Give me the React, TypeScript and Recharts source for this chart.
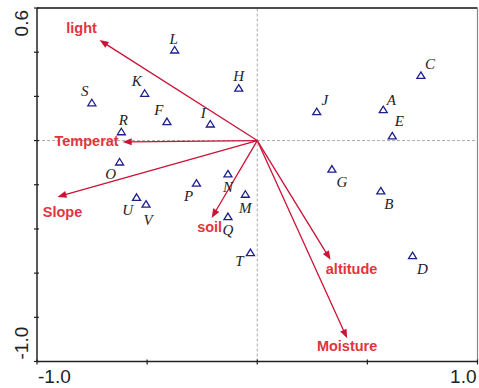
import React from 'react';
import { ScatterChart, Scatter, XAxis, YAxis, ReferenceLine } from 'recharts';

// Sample (site) scores
const siteNames = ['A', 'B', 'C', 'D', 'E', 'F', 'G', 'H', 'I', 'J', 'K', 'L', 'M', 'N', 'O', 'P', 'Q', 'R', 'S', 'T', 'U', 'V'];
const siteAxis1 = [0.572, 0.561, 0.743, 0.705, 0.613, -0.41, 0.339, -0.084, -0.213, 0.27, -0.511, -0.375, -0.054, -0.133, -0.625, -0.276, -0.133, -0.617, -0.751, -0.031, -0.548, -0.505];
const siteAxis2 = [0.14, -0.228, 0.295, -0.521, 0.021, 0.086, -0.129, 0.237, 0.075, 0.131, 0.214, 0.41, -0.243, -0.151, -0.097, -0.193, -0.344, 0.04, 0.171, -0.507, -0.257, -0.288];

// Environmental variable vectors
const envNames = ['light', 'Temperat', 'Slope', 'soil', 'altitude', 'Moisture'];
const envAxis1 = [-0.716, -0.611, -0.907, -0.207, 0.333, 0.408];
const envAxis2 = [0.455, -0.006, -0.255, -0.35, -0.54, -0.895];

// Axes
const xTicks = [-1, -0.5, 0, 0.5, 1];
const yTicks = [-1, -0.8, -0.6, -0.4, -0.2, 0, 0.2, 0.4, 0.6];
const xTickLabels = ['-1.0', '', '', '', '1.0'];
const yTickLabels = ['-1.0', '', '', '', '', '', '', '', '0.6'];

const siteData = siteNames.map((name, i) => ({ name, x: siteAxis1[i], y: siteAxis2[i] }));

// styling: label offsets (pixels) relative to marks
const siteLabelOffset: Record<string, [number, number]> = {
  A: [8, -10], B: [8, 13], C: [9, -11], D: [10, 13], E: [7, -15], F: [-8, -12], G: [10, 13],
  H: [0, -12], I: [-7, -11], J: [8, -12], K: [-8, -12], L: [-1, -11], M: [0, 14], N: [0, 13],
  O: [-9, 12], P: [-8, 13], Q: [0, 13], R: [2, -12], S: [-7, -12], T: [-11, 8], U: [-9, 13], V: [2, 16],
};
const envLabelStyle: Record<string, { dx: number; dy: number; anchor: 'start' | 'middle' | 'end' }> = {
  light: { dx: -18, dy: -12, anchor: 'middle' },
  Temperat: { dx: -4, dy: -1, anchor: 'end' },
  Slope: { dx: 5, dy: 15, anchor: 'middle' },
  soil: { dx: -2, dy: 9, anchor: 'middle' },
  altitude: { dx: 21, dy: 9, anchor: 'middle' },
  Moisture: { dx: 0, dy: 8, anchor: 'middle' },
};

const ARROW = '#cc1236';
const ENV_TEXT = '#e3343e';
const SITE = '#1f1f8c';

const SiteShape = (props: any) => {
  const { cx, cy, payload } = props;
  const off = siteLabelOffset[payload.name] || [0, -12];
  return (
    <g>
      <path
        d={`M${cx},${cy - 3.5} L${cx + 4},${cy + 3} L${cx - 4},${cy + 3} Z`}
        fill="none"
        stroke={SITE}
        strokeWidth={1.3}
      />
      <text
        x={cx + off[0]}
        y={cy + off[1] + 5}
        textAnchor="middle"
        fontFamily="'Liberation Serif', 'DejaVu Serif', serif"
        fontStyle="italic"
        fontSize={15}
        fill="#222"
      >
        {payload.name}
      </text>
    </g>
  );
};

const makeArrow = (name: string) => (p: any) => {
  const { x1, y1, x2, y2 } = p;
  const ang = Math.atan2(y2 - y1, x2 - x1);
  const c = Math.cos(ang);
  const s = Math.sin(ang);
  const L = 9;
  const W = 3.5;
  const bx = x2 - L * c;
  const by = y2 - L * s;
  const st = envLabelStyle[name];
  return (
    <g>
      <line x1={x1} y1={y1} x2={bx + 1 * c} y2={by + 1 * s} stroke={ARROW} strokeWidth={1.3} />
      <polygon
        points={`${x2},${y2} ${bx - W * s},${by + W * c} ${bx + W * s},${by - W * c}`}
        fill={ARROW}
        stroke="none"
      />
      <text
        x={x2 + st.dx}
        y={y2 + st.dy + 5}
        textAnchor={st.anchor}
        fontFamily="'Liberation Sans', Arial, sans-serif"
        fontWeight="bold"
        fontSize={14.5}
        fill={ENV_TEXT}
      >
        {name}
      </text>
    </g>
  );
};

const XTick = (props: any) => {
  const { x, y, index } = props;
  const label = xTickLabels[index];
  const anchor = index === 0 ? 'start' : 'end';
  return (
    <g>
      <line x1={x} y1={y - 2} x2={x} y2={y + 3} stroke="#222" strokeWidth={1.2} />
      {label ? (
        <text x={x + (index === 0 ? 1 : -1)} y={y + 21} textAnchor={anchor} fontFamily="'Liberation Sans', Arial, sans-serif" fontSize={19} fill="#222">
          {label}
        </text>
      ) : null}
    </g>
  );
};

const YTick = (props: any) => {
  const { x, y, index } = props;
  const label = yTickLabels[index];
  const isTop = index === yTicks.length - 1;
  const tx = 28;
  const ty = isTop ? y + 2 : y - 2;
  return (
    <g>
      <line x1={x - 3} y1={y} x2={x + 2} y2={y} stroke="#222" strokeWidth={1.2} />
      {label ? (
        <text
          x={tx}
          y={ty}
          transform={`rotate(-90 ${tx} ${ty})`}
          textAnchor={isTop ? 'end' : 'start'}
          fontFamily="'Liberation Sans', Arial, sans-serif"
          fontSize={19}
          fill="#222"
        >
          {label}
        </text>
      ) : null}
    </g>
  );
};

export default function App() {
  return (
    <div style={{ position: 'absolute', left: 0, top: 0, width: 479, height: 388, background: '#fff' }}>
      <ScatterChart width={479} height={388} margin={{ top: 8, right: 1.5, bottom: 0, left: 0 }}>
        <XAxis
          type="number"
          dataKey="x"
          domain={[-1, 1]}
          ticks={xTicks}
          interval={0}
          height={26.5}
          tickSize={0}
          tickMargin={0}
          tickLine={false}
          tick={<XTick />}
          axisLine={{ stroke: '#222', strokeWidth: 1.5 }}
          allowDataOverflow
        />
        <YAxis
          type="number"
          dataKey="y"
          domain={[-1, 0.6]}
          ticks={yTicks}
          interval={0}
          width={37}
          tickSize={0}
          tickMargin={0}
          tickLine={false}
          tick={<YTick />}
          axisLine={{ stroke: '#222', strokeWidth: 1.5 }}
          allowDataOverflow
        />
        <ReferenceLine x={0} stroke="#aaa" strokeDasharray="3 2" strokeWidth={1} />
        <ReferenceLine y={0} stroke="#aaa" strokeDasharray="3 2" strokeWidth={1} />
        <ReferenceLine y={0.6} stroke="#111" strokeWidth={1.5} />
        <ReferenceLine x={1} stroke="#888" strokeWidth={1.2} />
        {envNames.map((name, i) => (
          <ReferenceLine
            key={name}
            segment={[{ x: 0, y: 0 }, { x: envAxis1[i], y: envAxis2[i] }]}
            ifOverflow="visible"
            shape={makeArrow(name)}
          />
        ))}
        <Scatter data={siteData} isAnimationActive={false} shape={<SiteShape />} />
      </ScatterChart>
    </div>
  );
}
